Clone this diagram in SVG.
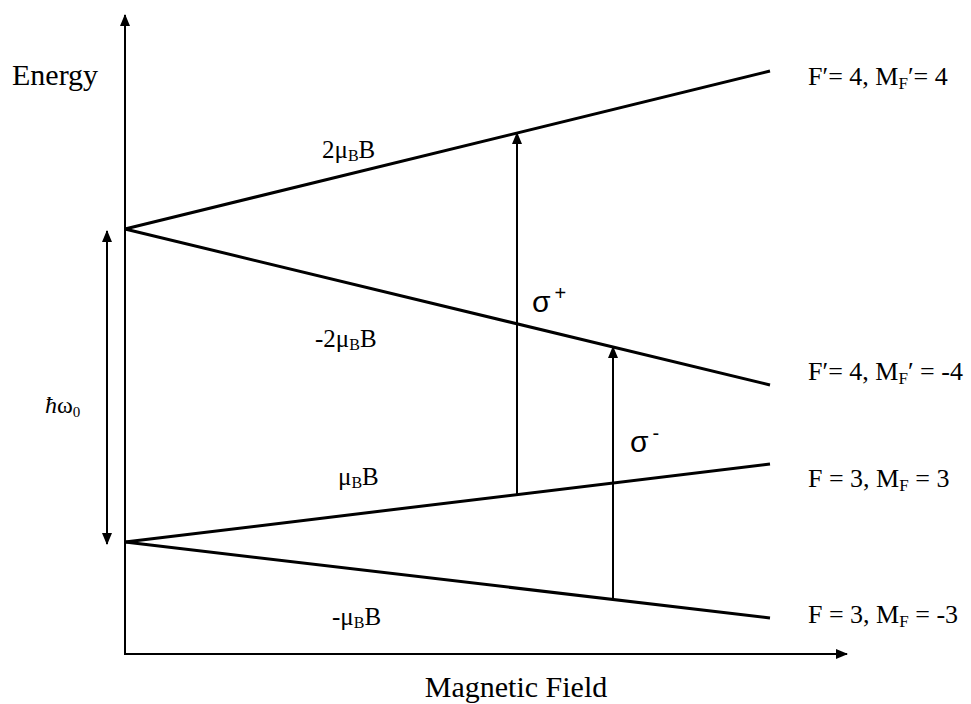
<svg xmlns="http://www.w3.org/2000/svg" width="971" height="704" viewBox="0 0 971 704">
<style>
.axis{stroke:#000;stroke-width:2;fill:none}
.lvl{stroke:#000;stroke-width:3;fill:none}
.tr{stroke:#000;stroke-width:2;fill:none}
.t{font-family:"Liberation Serif","Times New Roman",serif;fill:#000}
.s{font-family:"Liberation Sans",Arial,sans-serif;fill:#000}
</style>
<defs>
<marker id="ah" viewBox="0 0 12 10" refX="11" refY="5" markerWidth="12" markerHeight="10" markerUnits="userSpaceOnUse" orient="auto-start-reverse">
<path d="M0,0 L12,5 L0,10 Z" fill="#000"/>
</marker>
</defs>
<rect width="971" height="704" fill="#fff"/>
<g id="connectors">
<line class="axis" x1="125" y1="654" x2="125" y2="15" marker-end="url(#ah)"/>
<line class="axis" x1="124" y1="654" x2="847" y2="654" marker-end="url(#ah)"/>
<line class="tr" x1="107" y1="231" x2="107" y2="544" marker-start="url(#ah)" marker-end="url(#ah)"/>
<line class="tr" x1="517" y1="496" x2="517" y2="133" marker-end="url(#ah)"/>
<line class="tr" x1="613" y1="598" x2="613" y2="347" marker-end="url(#ah)"/>
</g>
<g id="level-F4-MF4"><line class="lvl" x1="125" y1="229" x2="770" y2="71"/></g>
<g id="level-F4-MFm4"><line class="lvl" x1="125" y1="229" x2="770" y2="385"/></g>
<g id="level-F3-MF3"><line class="lvl" x1="125" y1="542" x2="770" y2="464"/></g>
<g id="level-F3-MFm3"><line class="lvl" x1="125" y1="542" x2="770" y2="618"/></g>
<g id="labels">
<text class="t" x="12" y="85" font-size="30">Energy</text>
<text class="t" x="516" y="697" font-size="30" text-anchor="middle">Magnetic Field</text>
<text class="t" x="45" y="413" font-size="24"><tspan font-style="italic">ħ</tspan>ω<tspan font-size="15" dy="4">0</tspan></text>
<text class="t" x="322" y="158" font-size="25">2μ<tspan font-size="16" dy="3">B</tspan><tspan dy="-3">B</tspan></text>
<text class="t" x="315" y="347" font-size="25">-2μ<tspan font-size="16" dy="3">B</tspan><tspan dy="-3">B</tspan></text>
<text class="t" x="338" y="485" font-size="25">μ<tspan font-size="16" dy="3">B</tspan><tspan dy="-3">B</tspan></text>
<text class="t" x="332" y="625" font-size="25">-μ<tspan font-size="16" dy="3">B</tspan><tspan dy="-3">B</tspan></text>
<text class="s" x="532" y="312" font-size="30">σ<tspan font-size="20" dy="-12" dx="4">+</tspan></text>
<text class="s" x="630" y="452" font-size="30">σ<tspan font-size="20" dy="-12" dx="4">-</tspan></text>
<text class="t" x="808" y="85" font-size="26">F′= 4, M<tspan font-size="17" dy="4">F</tspan><tspan dy="-4">′= 4</tspan></text>
<text class="t" x="808" y="380" font-size="26">F′= 4, M<tspan font-size="17" dy="4">F</tspan><tspan dy="-4">′ = -4</tspan></text>
<text class="t" x="808" y="487" font-size="26">F = 3, M<tspan font-size="17" dy="4">F</tspan><tspan dy="-4"> = 3</tspan></text>
<text class="t" x="808" y="623" font-size="26">F = 3, M<tspan font-size="17" dy="4">F</tspan><tspan dy="-4"> = -3</tspan></text>
</g>
</svg>
